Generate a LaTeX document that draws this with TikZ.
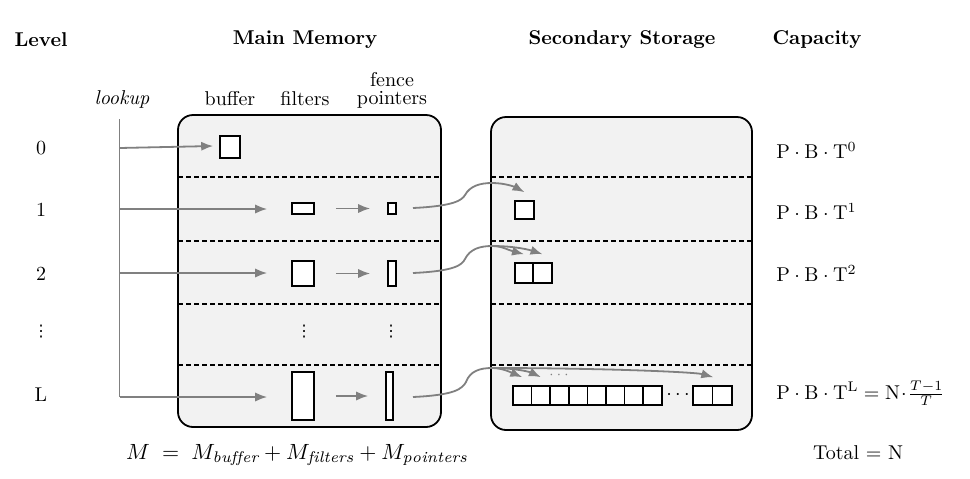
\documentclass[tikz,border=0pt]{standalone}
\usepackage{fontspec}
\usetikzlibrary{arrows.meta}
\newfontfamily\djv{DejaVu Sans}
\definecolor{boxfill}{RGB}{242,242,242}
\definecolor{arrgray}{RGB}{128,128,128}
\newcommand\myvdots{{\djv\footnotesize ⋮}}
\tikzset{
  bigbox/.style={draw, line width=0.9pt, fill=boxfill, rounded corners=7.5pt, inner sep=0pt},
  cell/.style={draw, line width=0.8pt, fill=white, inner sep=0pt},
  sep/.style={line width=0.7pt, dash pattern=on 2.5pt off 1.5pt},
  garrow/.style={draw=arrgray, line width=0.9pt, -{Latex[length=6pt,width=4.6pt]}},
  gline/.style={draw=arrgray, line width=0.9pt},
  lbl/.style={inner sep=0pt, anchor=center},
  head/.style={inner sep=0pt, font=\bfseries},
}
\begin{document}
\begin{tikzpicture}[x=0.5pt,y=-0.5pt]
\useasboundingbox (0,0) rectangle (970,478);

% headings
\node[head] (hlevel) at (41,40) {Level};
\node[head] (hmem) at (305,40) {Main Memory};
\node[head] (hsec) at (622,40) {Secondary Storage};
\node[head] (hcap) at (817,40) {Capacity};

\node[lbl] (hlookup) at (122,99) {\textit{lookup}};
\node[lbl] (hbuf) at (230,99) {buffer};
\node[lbl] (hfil) at (305,99) {filters};
\node[lbl, align=center] (hfen) at (392,90) {fence\\[-3pt]pointers};

% big boxes
\node[bigbox, minimum width=131.5pt, minimum height=156pt] (mem) at (309.5,271) {};
\node[bigbox, minimum width=130.5pt, minimum height=156.5pt] (sec) at (621.5,273.5) {};

% separators
\foreach \y [count=\i] in {177,241,304,365}{
  \coordinate (ml\i) at (178,\y);
  \coordinate (mr\i) at (441,\y);
  \coordinate (sl\i) at (491,\y);
  \coordinate (sr\i) at (752,\y);
  \draw[sep] (ml\i) -- (mr\i);
  \draw[sep] (sl\i) -- (sr\i);
}

% level labels
\node[lbl] (l0) at (41,148) {0};
\node[lbl] (l1) at (41,210) {1};
\node[lbl] (l2) at (41,274) {2};
\node[lbl] (ld) at (41,332) {\myvdots};
\node[lbl] (lL) at (41,395) {L};

% memory contents
\node[cell, minimum width=10pt, minimum height=11pt] (buf) at (230,147) {};
\node[cell, minimum width=11pt, minimum height=5.5pt] (f1) at (303,208.5) {};
\node[cell, minimum width=4pt, minimum height=5.5pt] (p1) at (392,208.5) {};
\node[cell, minimum width=11pt, minimum height=12.5pt] (f2) at (303,273.5) {};
\node[cell, minimum width=4pt, minimum height=12.5pt] (p2) at (392,273.5) {};
\node[lbl] (fd) at (304,332) {\myvdots};
\node[lbl] (pd) at (391,332) {\myvdots};
\node[cell, minimum width=11pt, minimum height=24pt] (fL) at (303,396) {};
\node[cell, minimum width=3.5pt, minimum height=24pt] (pL) at (389.5,396) {};

% lookup line
\coordinate (lk0) at (119.5,148);
\coordinate (lkTop) at (119.5,119);
\coordinate (lk1) at (119.5,209);
\coordinate (lk2) at (119.5,273);
\coordinate (lkL) at (119.5,397);
\draw[gline] (lkTop) -- (lkL);
\draw[garrow] (lk0) -- ([xshift=-3pt,yshift=0.5pt]buf.west);
\draw[garrow] (lk1) -- ([xshift=-12pt]f1.west |- lk1);
\draw[garrow] (lk2) -- ([xshift=-12pt]f2.west |- lk2);
\draw[garrow] (lkL) -- ([xshift=-12pt]fL.west |- lkL);

% filter -> fence
\foreach \r in {1,2,L}{
  \draw[garrow] ([xshift=10.5pt]f\r.east) -- ([xshift=-8.5pt]p\r.west |- f\r.east);
}

% storage contents
\node[cell, minimum width=9.5pt, minimum height=9pt] (s1) at (524.5,210) {};
\node[cell, minimum width=9.25pt, minimum height=10pt] (s2a) at (524,273) {};
\node[cell, minimum width=9.25pt, minimum height=10pt] (s2b) at (542.5,273) {};
\foreach \k in {0,...,7}{
  \node[cell, minimum width=9.3pt, minimum height=9.5pt] (sL\k) at ({522.3+18.6*\k},395.5) {};
}
\node[lbl] (sdots) at (678,395) {$\cdots$};
\node[cell, minimum width=9.75pt, minimum height=9.5pt] (sLa) at (702.75,395.5) {};
\node[cell, minimum width=9.75pt, minimum height=9.5pt] (sLb) at (722.25,395.5) {};
\node[lbl, text=arrgray, font=\scriptsize] (sdots2) at (559,375) {$\cdots$};

% curved connectors
\coordinate (c1) at (413,208);
\draw[gline] (c1) .. controls (455,206) and (462,200) .. (465,195)
  .. controls (470,186) and (480,183) .. (492,183);
\coordinate (c1t) at (492,183);
\draw[garrow] (c1t) .. controls (505,183) and (515,187) .. ([yshift=4pt]s1.north);

\coordinate (c2) at (413,273);
\draw[gline] (c2) .. controls (455,271) and (462,265) .. (465,259)
  .. controls (470,249) and (480,246) .. (492,246);
\coordinate (c2t) at (492,246);
\draw[garrow] (c2t) .. controls (502,246) and (508,250) .. ([yshift=4pt]s2a.north);
\draw[garrow] (c2t) .. controls (515,246) and (530,250) .. ([yshift=4pt]s2b.north);

\coordinate (cL) at (413,397);
\draw[gline] (cL) .. controls (455,395) and (462,389) .. (466,382)
  .. controls (470,371) and (480,368) .. (492,368);
\coordinate (cLt) at (492,368);
\draw[garrow] (cLt) .. controls (502,368) and (510,372) .. ([yshift=4pt]sL0.north);
\draw[garrow] (cLt) .. controls (515,368) and (530,372) .. ([yshift=4pt]sL1.north);
\draw[garrow] (cLt) .. controls (600,368) and (695,372) .. ([yshift=4pt]sLa.north east);

% capacities
\node[anchor=west, inner sep=0pt] (cap0) at (776,150) {$\mathrm{P\cdot B\cdot T^{0}}$};
\node[anchor=west, inner sep=0pt] (cap1) at (776,211) {$\mathrm{P\cdot B\cdot T^{1}}$};
\node[anchor=west, inner sep=0pt] (cap2) at (776,273) {$\mathrm{P\cdot B\cdot T^{2}}$};
\node[anchor=west, inner sep=0pt] (capL) at (776,395) {$\mathrm{P\cdot B\cdot T^{L}=N}\!\cdot\!\frac{T-1\vphantom{g}}{\vphantom{(}T}$};
\node[lbl] (total) at (858,453) {Total $=$ N};

% memory formula
\node[lbl, scale=1.1] (mform) at (297,455) {$M \;=\; M_{\mathit{buffer}}+M_{\mathit{filters}}+M_{\mathit{pointers}}$};
\end{tikzpicture}
\end{document}
